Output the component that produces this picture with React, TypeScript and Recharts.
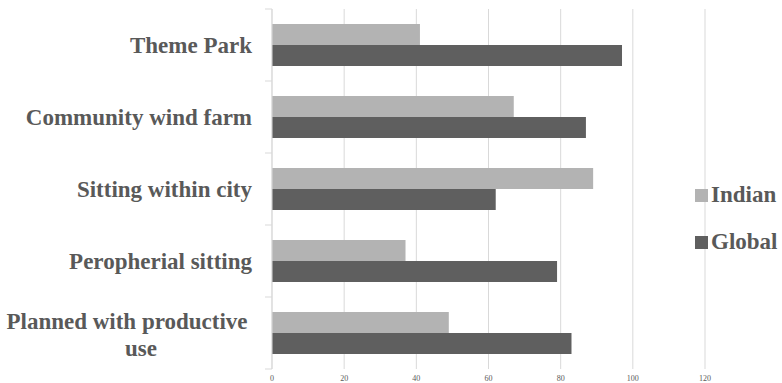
import { BarChart, Bar, XAxis, YAxis, CartesianGrid } from 'recharts'

const categories = [
  'Theme Park',
  'Community wind farm',
  'Sitting within city',
  'Peropherial sitting',
  'Planned with productive use',
]
const indian = [41, 67, 89, 37, 49]
const global = [97, 87, 62, 79, 83]
const xTicks = [0, 20, 40, 60, 80, 100, 120]

const data = categories.map((name, i) => ({ name, Indian: indian[i], Global: global[i] }))

const FONT = "'Liberation Serif', 'Times New Roman', serif"
const TEXT = '#595959'
const LIGHT = '#b3b3b3'
const DARK = '#5f5f5f'
const GRID = '#d9d9d9'

// wrapped labels as in the original (long one breaks before "use")
const wrap = (s: string) => (s === 'Planned with productive use' ? ['Planned with productive', 'use'] : [s])

function CategoryTick(props: any) {
  const { y, payload, index, visibleTicksCount } = props
  const axisX = 272
  const half = 36
  const lines = wrap(payload.value)
  const right = axisX - 20
  return (
    <g>
      <line x1={axisX - 7} x2={axisX} y1={y - half} y2={y - half} stroke={GRID} />
      {index === visibleTicksCount - 1 && <line x1={axisX - 7} x2={axisX} y1={y + half} y2={y + half} stroke={GRID} />}
      {lines.length === 1 ? (
        <text x={right} y={y} dy="0.35em" textAnchor="end" fontFamily={FONT} fontWeight="bold" fontSize={23} fill={TEXT}>
          {lines[0]}
        </text>
      ) : (
        <text textAnchor="middle" fontFamily={FONT} fontWeight="bold" fontSize={23} fill={TEXT}>
          {lines.map((l, i) => (
            <tspan key={i} x={i === 0 ? 127 : 141} y={y - 12 + i * 27} dy="0.35em">{l}</tspan>
          ))}
        </text>
      )}
    </g>
  )
}

function NumberTick(props: any) {
  const { x, payload } = props
  return (
    <text x={x} y={378} dy="0.35em" textAnchor="middle" fontFamily={FONT} fontSize={8} fill={TEXT}>
      {payload.value}
    </text>
  )
}

function LegendBox() {
  const items = [
    { name: 'Indian', color: LIGHT },
    { name: 'Global', color: DARK },
  ]
  return (
    <div style={{ position: 'absolute', left: 695, top: 181, display: 'flex', flexDirection: 'column', gap: 19 }}>
      {items.map(it => (
        <div key={it.name} style={{ display: 'flex', alignItems: 'center', height: 28 }}>
          <span style={{ width: 13, height: 13, background: it.color, marginRight: 3, display: 'inline-block' }} />
          <span style={{ fontFamily: FONT, fontWeight: 'bold', fontSize: 23, color: TEXT }}>{it.name}</span>
        </div>
      ))}
    </div>
  )
}

export default function App() {
  return (
    <div style={{ position: 'relative', width: 782, height: 383, background: '#fff' }}>
      <style>{'body{margin:0}'}</style>
      <BarChart
        width={782}
        height={383}
        data={data}
        layout="vertical"
        margin={{ top: 9, right: 77, bottom: 0, left: 0 }}
        barCategoryGap={15}
        barGap={0}
      >
        <CartesianGrid horizontal={false} stroke={GRID} />
        <XAxis
          type="number"
          domain={[0, 120]}
          ticks={xTicks}
          axisLine={false}
          tickLine={false}
          height={14}
          tick={<NumberTick />}
        />
        <YAxis
          type="category"
          dataKey="name"
          width={272}
          axisLine={{ stroke: GRID }}
          tickLine={false}
          tick={<CategoryTick />}
          interval={0}
        />
        <Bar dataKey="Indian" fill={LIGHT} isAnimationActive={false} />
        <Bar dataKey="Global" fill={DARK} isAnimationActive={false} />
      </BarChart>
      <LegendBox />
    </div>
  )
}
